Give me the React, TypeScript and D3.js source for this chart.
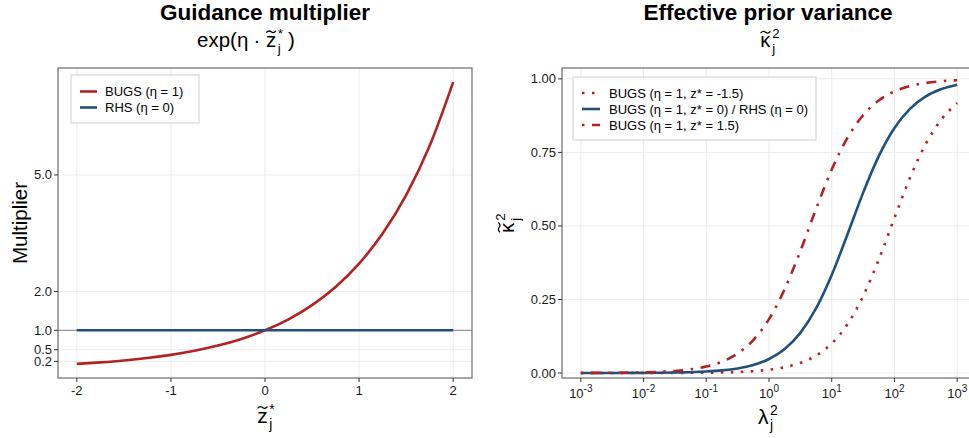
import * as d3 from "d3";

// left panel: guidance multiplier exp(eta * z)
const zValues = [-2, -1.75, -1.5, -1.25, -1, -0.75, -0.5, -0.25, 0, 0.25, 0.5, 0.75, 1, 1.25, 1.5, 1.75, 2];
const bugsMultiplier = [0.135, 0.174, 0.223, 0.287, 0.368, 0.472, 0.607, 0.779, 1, 1.284, 1.649, 2.117, 2.718, 3.49, 4.48, 5.75, 7.39];
const rhsMultiplier = [1, 1, 1, 1, 1, 1, 1, 1, 1, 1, 1, 1, 1, 1, 1, 1, 1];
const leftYTicks = [0.2, 0.5, 1.0, 2.0, 5.0];
const leftXTicks = [-2, -1, 0, 1, 2];

// right panel: effective prior variance vs lambda^2
const lambdaSq = [0.001, 0.00178, 0.00316, 0.00562, 0.01, 0.0178, 0.0316, 0.0562, 0.1, 0.178, 0.316, 0.562, 1, 1.78, 3.16, 5.62, 10, 17.8, 31.6, 56.2, 100, 178, 316, 562, 1000];
const kappaNeg = [0.00001, 0.00002, 0.00004, 0.00006, 0.00011, 0.0002, 0.00035, 0.00063, 0.0011, 0.002, 0.0035, 0.0062, 0.011, 0.0195, 0.0341, 0.059, 0.1004, 0.1657, 0.2607, 0.3854, 0.5274, 0.6652, 0.7791, 0.8625, 0.9178];
const kappaZero = [0.00005, 0.00009, 0.00016, 0.00028, 0.0005, 0.0009, 0.0016, 0.0028, 0.005, 0.0088, 0.0156, 0.0273, 0.0476, 0.0817, 0.1365, 0.2194, 0.3333, 0.4709, 0.6124, 0.7375, 0.8333, 0.899, 0.9405, 0.9656, 0.9804];
const kappaPos = [0.00022, 0.0004, 0.0007, 0.00126, 0.00224, 0.004, 0.007, 0.0124, 0.0219, 0.0384, 0.0662, 0.1119, 0.1831, 0.2853, 0.4147, 0.5575, 0.6916, 0.7996, 0.8763, 0.9265, 0.9573, 0.9756, 0.9861, 0.9921, 0.9956];
const rightYTicks = [0, 0.25, 0.5, 0.75, 1];
const rightXExponents = [-3, -2, -1, 0, 1, 2, 3];

const RED = "#B22222";
const BLUE = "#22507E";
const GRID = "#EBEBEB";
const BORDER = "#6b6b6b";
const FONT = "'Liberation Sans', Arial, sans-serif";

const DOTTED = "2.5,7.5";
const DOTDASH = "2.5,7.5,10,7.5";

// panel boxes
const L = { x0: 58, x1: 472, y0: 68, y1: 378 };
const R = { x0: 562, x1: 976, y0: 68, y1: 378 };

// symbol with optional wide tilde, superscript and subscript (plotmath-ish)
function MathSym({ x, y, size, base, baseW, tilde, sup, sub, anchor }: any) {
  const bw = baseW * size;
  const ss = size * 0.66;
  const supW = sup === "*" ? 0.39 * ss : 0.56 * ss;
  const total = bw + 1.5 + Math.max(supW, 0.25 * ss);
  const x0 = anchor === "start" ? x : x - total / 2;
  const cx = x0 + bw / 2;
  const ty = y - size * 0.74;
  const w = bw * 0.95;
  const h = size * 0.07;
  return (
    <g>
      <text x={x0} y={y} fontSize={size}>{base}</text>
      {tilde && (
        <path
          d={`M${cx - w / 2},${ty + h * 0.6} Q${cx - w / 4},${ty - h * 1.4} ${cx},${ty} T${cx + w / 2},${ty - h * 0.6}`}
          fill="none" stroke="#000" strokeWidth={size * 0.06}
        />
      )}
      {sup && <text x={x0 + bw + 1.5} y={y - size * 0.45} fontSize={ss}>{sup}</text>}
      {sub && <text x={x0 + bw + 1.5} y={y + size * 0.28} fontSize={ss}>{sub}</text>}
    </g>
  );
}

function App() {
  const lx = d3.scaleLinear().domain([-2.2, 2.2]).range([L.x0, L.x1]);
  const lyExt = d3.extent(bugsMultiplier) as [number, number];
  const pad = (lyExt[1] - lyExt[0]) * 0.05;
  const ly = d3.scaleLinear().domain([lyExt[0] - pad, lyExt[1] + pad]).range([L.y1, L.y0]);

  const rx = d3.scaleLog().domain([Math.pow(10, -3.3), Math.pow(10, 3.3)]).range([R.x0, R.x1]);
  const ry = d3.scaleLinear().domain([-0.017, 1.037]).range([R.y1, R.y0]);

  const leftLine = d3.line<number>().x((_, i) => lx(zValues[i])).y((d) => ly(d)).curve(d3.curveMonotoneX);
  const rightLine = d3.line<number>().x((_, i) => rx(lambdaSq[i])).y((d) => ry(d)).curve(d3.curveMonotoneX);

  const rightSeries = [
    { label: "BUGS (η = 1, z* = -1.5)", values: kappaNeg, dash: DOTTED, color: RED },
    { label: "BUGS (η = 1, z* = 0) / RHS (η = 0)", values: kappaZero, dash: "", color: BLUE },
    { label: "BUGS (η = 1, z* = 1.5)", values: kappaPos, dash: DOTDASH, color: RED },
  ];
  const leftSeries = [
    { label: "BUGS (η = 1)", color: RED },
    { label: "RHS (η = 0)", color: BLUE },
  ];

  return (
    <svg width={969} height={438} style={{ position: "absolute", left: 0, top: 0, background: "#fff" }} fontFamily={FONT}>
      <defs>
        <clipPath id="clipL"><rect x={L.x0} y={L.y0} width={L.x1 - L.x0} height={L.y1 - L.y0} /></clipPath>
        <clipPath id="clipR"><rect x={R.x0} y={R.y0} width={R.x1 - R.x0} height={R.y1 - R.y0} /></clipPath>
      </defs>

      {/* ---------- left panel ---------- */}
      <text x={265} y={20} textAnchor="middle" fontSize={22.5} fontWeight="bold">Guidance multiplier</text>
      <text x={197} y={47} fontSize={20.5}>exp(η</text>
      <text x={257} y={47} fontSize={20.5} textAnchor="middle">·</text>
      <MathSym x={266} y={47} size={20.5} base="z" baseW={0.5} tilde sup="*" sub="j" anchor="start" />
      <text x={288} y={47} fontSize={20.5}>)</text>

      {leftXTicks.map((t) => (
        <line key={"lgx" + t} x1={lx(t)} x2={lx(t)} y1={L.y0} y2={L.y1} stroke={GRID} />
      ))}
      {leftYTicks.map((t) => (
        <line key={"lgy" + t} x1={L.x0} x2={L.x1} y1={ly(t)} y2={ly(t)} stroke={GRID} />
      ))}
      <line x1={L.x0} x2={L.x1} y1={ly(1)} y2={ly(1)} stroke="#9a9a9a" strokeWidth={1.2} />
      <g clipPath="url(#clipL)">
        <path d={leftLine(bugsMultiplier) || ""} fill="none" stroke={RED} strokeWidth={2.6} />
        <path d={leftLine(rhsMultiplier) || ""} fill="none" stroke={BLUE} strokeWidth={2.6} />
      </g>
      <rect x={L.x0} y={L.y0} width={L.x1 - L.x0} height={L.y1 - L.y0} fill="none" stroke={BORDER} strokeWidth={1.2} />

      {leftXTicks.map((t) => (
        <g key={"lxt" + t}>
          <line x1={lx(t)} x2={lx(t)} y1={L.y1} y2={L.y1 + 4} stroke="#333" />
          <text x={lx(t)} y={395} textAnchor="middle" fontSize={13} fill="#1a1a1a">{t}</text>
        </g>
      ))}
      {leftYTicks.map((t) => (
        <g key={"lyt" + t}>
          <line x1={L.x0 - 4} x2={L.x0} y1={ly(t)} y2={ly(t)} stroke="#333" />
          <text x={L.x0 - 6} y={ly(t) + 4.5} textAnchor="end" fontSize={13} fill="#1a1a1a">{t.toFixed(1)}</text>
        </g>
      ))}
      <text transform={`translate(27,${(L.y0 + L.y1) / 2}) rotate(-90)`} textAnchor="middle" fontSize={20.5}>Multiplier</text>
      <MathSym x={266} y={423} size={21} base="z" baseW={0.5} tilde sup="*" sub="j" />

      {/* left legend */}
      <rect x={71} y={75} width={128} height={48} fill="#fff" stroke="#cfcfcf" />
      {leftSeries.map((s, i) => (
        <g key={"lleg" + i}>
          <line x1={80} x2={97} y1={91.5 + i * 16} y2={91.5 + i * 16} stroke={s.color} strokeWidth={2.6} />
          <text x={105} y={96 + i * 16} fontSize={13}>{s.label}</text>
        </g>
      ))}

      {/* ---------- right panel ---------- */}
      <text x={768} y={20} textAnchor="middle" fontSize={22.5} fontWeight="bold">Effective prior variance</text>
      <MathSym x={770} y={47} size={20} base="κ" baseW={0.52} tilde sup="2" sub="j" />

      {rightXExponents.map((e) => (
        <line key={"rgx" + e} x1={rx(Math.pow(10, e))} x2={rx(Math.pow(10, e))} y1={R.y0} y2={R.y1} stroke={GRID} />
      ))}
      {rightYTicks.map((t) => (
        <line key={"rgy" + t} x1={R.x0} x2={R.x1} y1={ry(t)} y2={ry(t)} stroke={GRID} />
      ))}
      <g clipPath="url(#clipR)">
        {rightSeries.map((s) => (
          <path key={s.label} d={rightLine(s.values) || ""} fill="none" stroke={s.color} strokeWidth={2.6} strokeDasharray={s.dash || undefined} />
        ))}
      </g>
      <rect x={R.x0} y={R.y0} width={R.x1 - R.x0} height={R.y1 - R.y0} fill="none" stroke={BORDER} strokeWidth={1.2} />

      {rightXExponents.map((e) => (
        <g key={"rxt" + e}>
          <line x1={rx(Math.pow(10, e))} x2={rx(Math.pow(10, e))} y1={R.y1} y2={R.y1 + 4} stroke="#333" />
          <text x={rx(Math.pow(10, e))} y={398} textAnchor="middle" fontSize={13} fill="#1a1a1a">
            10<tspan dy={-6} fontSize={10}>{e < 0 ? "-" + -e : e}</tspan>
          </text>
        </g>
      ))}
      {rightYTicks.map((t) => (
        <g key={"ryt" + t}>
          <line x1={R.x0 - 4} x2={R.x0} y1={ry(t)} y2={ry(t)} stroke="#333" />
          <text x={R.x0 - 6} y={ry(t) + 4.5} textAnchor="end" fontSize={13} fill="#1a1a1a">{t.toFixed(2)}</text>
        </g>
      ))}
      <g transform={`translate(514,${(R.y0 + R.y1) / 2}) rotate(-90)`}>
        <MathSym x={0} y={0} size={20} base="κ" baseW={0.52} tilde sup="2" sub="j" />
      </g>
      <MathSym x={768} y={424} size={21} base="λ" baseW={0.5} sup="2" sub="j" />

      {/* right legend */}
      <rect x={573} y={77} width={243} height={63} fill="#fff" stroke="#cfcfcf" />
      {rightSeries.map((s, i) => (
        <g key={"leg" + i}>
          <line x1={582} x2={600} y1={93 + i * 16} y2={93 + i * 16} stroke={s.color} strokeWidth={2.6} strokeDasharray={s.dash || undefined} />
          <text x={609} y={97.5 + i * 16} fontSize={13}>{s.label}</text>
        </g>
      ))}
    </svg>
  );
}

export default App;
